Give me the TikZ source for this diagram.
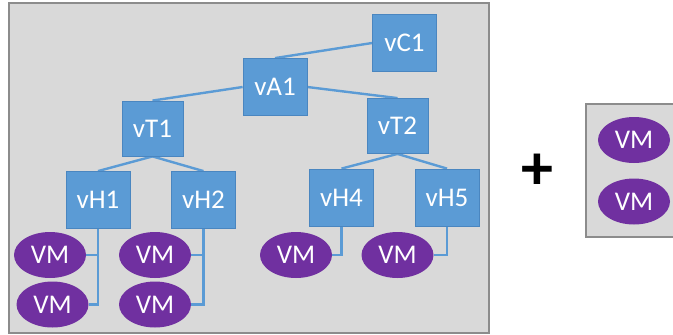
\documentclass[tikz,border=0pt]{standalone}
\usepackage{fontspec}
\setmainfont{Carlito}
\usetikzlibrary{shapes.geometric,backgrounds}
\definecolor{hostblue}{HTML}{5B9BD5}
\definecolor{hostedge}{HTML}{4A86C0}
\definecolor{vmpurple}{HTML}{7030A0}
\definecolor{panelgrey}{HTML}{D9D9D9}
\definecolor{paneledge}{HTML}{8C8C8C}
\tikzset{
  hostbox/.style={draw=hostedge,line width=0.8pt,fill=hostblue,text=white,
    minimum width=64pt,minimum height=57pt,inner sep=0pt,
    font=\fontsize{27}{28}\selectfont},
  vmnode/.style={ellipse,fill=vmpurple,text=white,minimum width=72pt,
    minimum height=46pt,inner sep=0pt,font=\fontsize{27}{28}\selectfont},
  link/.style={hostblue,line width=2.4pt},
}
\begin{document}
\begin{tikzpicture}[x=1pt,y=-1pt]
\useasboundingbox (0,0) rectangle (673,335);
%\draw[step=10,gray,very thin] (0,0) grid (673,335); %background grid

%---------------------------------------------------
\node[hostbox] (vC1) at (404.5,43) {vC1};
\node[hostbox] (vA1) at (275,87) {vA1};
\node[hostbox,minimum width=61pt,minimum height=55pt] (vT1) at (152.5,128.5) {vT1};
\node[hostbox,minimum width=61pt,minimum height=55pt] (vT2) at (397.5,126) {vT2};
\node[hostbox] (vH1) at (98,200) {vH1};
\node[hostbox] (vH2) at (203.5,200) {vH2};
\node[hostbox] (vH4) at (341.5,197.5) {vH4};
\node[hostbox] (vH5) at (447,197.5) {vH5};

%--------------------------------------------------
\node[vmnode] (vm1) at (50,255) {VM};
\node[vmnode] (vm2) at (52.5,304.5) {VM};
\node[vmnode] (vm3) at (155,255) {VM};
\node[vmnode] (vm4) at (155,304.5) {VM};
\node[vmnode] (vm5) at (296,255) {VM};
\node[vmnode] (vm6) at (397.5,255) {VM};
\node[vmnode] (vm7) at (634,140) {VM};
\node[vmnode] (vm8) at (634,201.5) {VM};

\node[font=\fontsize{64}{64}\bfseries\selectfont,inner sep=0pt] (plus) at (537,172) {+};

%------------------------------------------------
\begin{pgfonlayer}{background}
\fill[panelgrey] (9,3) rectangle (489,333);
\draw[paneledge,line width=1.2pt] (9,3) rectangle (489,333);
\fill[panelgrey] (586,104) rectangle (673,237);
\draw[paneledge,line width=1.2pt] (673,104) -| (586,237) -- (673,237);

\draw[link] (vC1.west) -- (vA1.north);
\draw[link] (vA1.west) -- (vT1.north);
\draw[link] (vA1.east) -- (vT2.north);
\draw[link] (vT1.south) -- (vH1.north);
\draw[link] (vT1.south) -- (vH2.north);
\draw[link] (vT2.south) -- (vH4.north);
\draw[link] (vT2.south) -- (vH5.north);
\draw[link] (vH1.south) |- (vm2.east);
\draw[link] (vm1.east) -- (vm1.east -| vH1.south);
\draw[link] (vH2.south) |- (vm4.east);
\draw[link] (vm3.east) -- (vm3.east -| vH2.south);
\draw[link] (vH4.south) |- (vm5.east);
\draw[link] (vH5.south) |- (vm6.east);
\end{pgfonlayer}
\end{tikzpicture}
\end{document}
